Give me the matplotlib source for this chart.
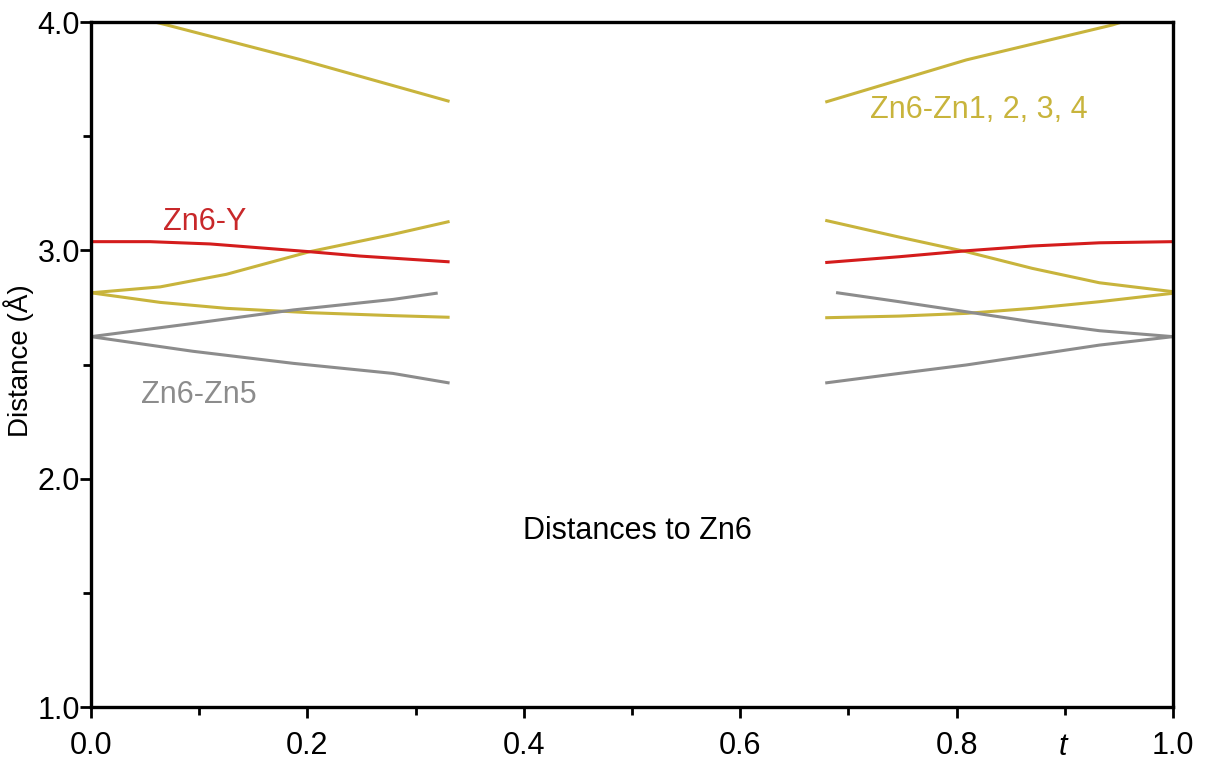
import matplotlib.pyplot as plt
from matplotlib.ticker import MultipleLocator
import matplotlib.transforms as mtransforms

plt.rcParams['font.family'] = ['Liberation Sans', 'DejaVu Sans']

# Interpolation parameter t for the two computed windows
t_left = [0.0, 0.064, 0.125, 0.202, 0.279, 0.330]
t_right = [0.680, 0.747, 0.809, 0.870, 0.932, 1.0]

# Zn6-Zn1..4 distances (Å)
zn14_top_t_left = [0.0, 0.07, 0.193, 0.330]
zn14_top_left = [4.07, 3.987, 3.836, 3.654]
zn14_top_t_right = [0.680, 0.809, 0.944, 1.0]
zn14_top_right = [3.651, 3.834, 3.987, 4.07]

zn14_up_left = [2.814, 2.840, 2.895, 2.994, 3.070, 3.125]
zn14_low_left = [2.814, 2.772, 2.746, 2.727, 2.714, 2.707]
zn14_up_right = [3.130, 3.058, 2.994, 2.921, 2.858, 2.819]
zn14_low_right = [2.705, 2.712, 2.724, 2.746, 2.775, 2.812]

# Zn6-Y distance (Å)
y_t_left = [0.002, 0.0545, 0.110, 0.156, 0.202, 0.2485, 0.330]
y_left = [3.038, 3.038, 3.028, 3.011, 2.994, 2.975, 2.950]
y_right = [2.947, 2.972, 2.998, 3.019, 3.033, 3.038]

# Zn6-Zn5 distances (Å)
zn5_up_t_left = [0.0, 0.0945, 0.187, 0.279, 0.319]
zn5_up_left = [2.622, 2.680, 2.739, 2.785, 2.812]
zn5_low_t_left = [0.0, 0.094, 0.187, 0.279, 0.330]
zn5_low_left = [2.622, 2.558, 2.505, 2.461, 2.420]
zn5_down_t_right = [0.690, 0.747, 0.809, 0.870, 0.932, 1.0]
zn5_down_right = [2.814, 2.775, 2.731, 2.687, 2.648, 2.622]
zn5_rise_right = [2.420, 2.461, 2.498, 2.541, 2.585, 2.622]

yellow = '#c8b43c'
red = '#d41c1c'
gray = '#8c8c8c'
lw = 2.2
fs = 22

fig = plt.figure(figsize=(12.06, 7.64), dpi=100)
ax = fig.add_axes([0.0755, 0.0746, 0.8971, 0.8966])

ax.plot(zn14_top_t_left, zn14_top_left, color=yellow, lw=lw)
ax.plot(zn14_top_t_right, zn14_top_right, color=yellow, lw=lw)
ax.plot(t_left, zn14_up_left, color=yellow, lw=lw)
ax.plot(t_left, zn14_low_left, color=yellow, lw=lw)
ax.plot(t_right, zn14_up_right, color=yellow, lw=lw)
ax.plot(t_right, zn14_low_right, color=yellow, lw=lw)

ax.plot(zn5_up_t_left, zn5_up_left, color=gray, lw=lw)
ax.plot(zn5_low_t_left, zn5_low_left, color=gray, lw=lw)
ax.plot(zn5_down_t_right, zn5_down_right, color=gray, lw=lw)
ax.plot(t_right, zn5_rise_right, color=gray, lw=lw)

ax.plot(y_t_left, y_left, color=red, lw=lw)
ax.plot(t_right, y_right, color=red, lw=lw)

ax.set_xlim(0, 1)
ax.set_ylim(1, 4)
ax.xaxis.set_major_locator(MultipleLocator(0.2))
ax.xaxis.set_minor_locator(MultipleLocator(0.1))
ax.yaxis.set_major_locator(MultipleLocator(1.0))
ax.yaxis.set_minor_locator(MultipleLocator(0.5))
ax.xaxis.set_major_formatter(plt.FormatStrFormatter('%.1f'))
ax.yaxis.set_major_formatter(plt.FormatStrFormatter('%.1f'))

for side in ax.spines.values():
    side.set_linewidth(2.4)
ax.tick_params(which='major', length=8, width=2, labelsize=fs, direction='out')
ax.tick_params(which='minor', length=6, width=2, direction='out')
ax.tick_params(axis='y', which='major', pad=0)
ax.tick_params(axis='x', which='major', pad=9)

ax.set_ylabel('Distance (Å)', fontsize=20)
ax.yaxis.set_label_coords(-0.053, 0.505)

# italic axis variable sits among the x tick labels
trans = mtransforms.blended_transform_factory(ax.transData, ax.transAxes)
ax.text(0.898, -0.037, 't', transform=trans, fontsize=fs, style='italic',
        ha='center', va='top')

ax.text(0.105, 3.125, 'Zn6-Y', color='#c8282a', fontsize=fs, ha='center', va='center')
ax.text(0.10, 2.365, 'Zn6-Zn5', color=gray, fontsize=fs, ha='center', va='center')
ax.text(0.821, 3.615, 'Zn6-Zn1, 2, 3, 4', color=yellow, fontsize=fs, ha='center', va='center')
ax.text(0.505, 1.77, 'Distances to Zn6', color='black', fontsize=fs, ha='center', va='center')

fig.savefig('out.png', dpi=100)
